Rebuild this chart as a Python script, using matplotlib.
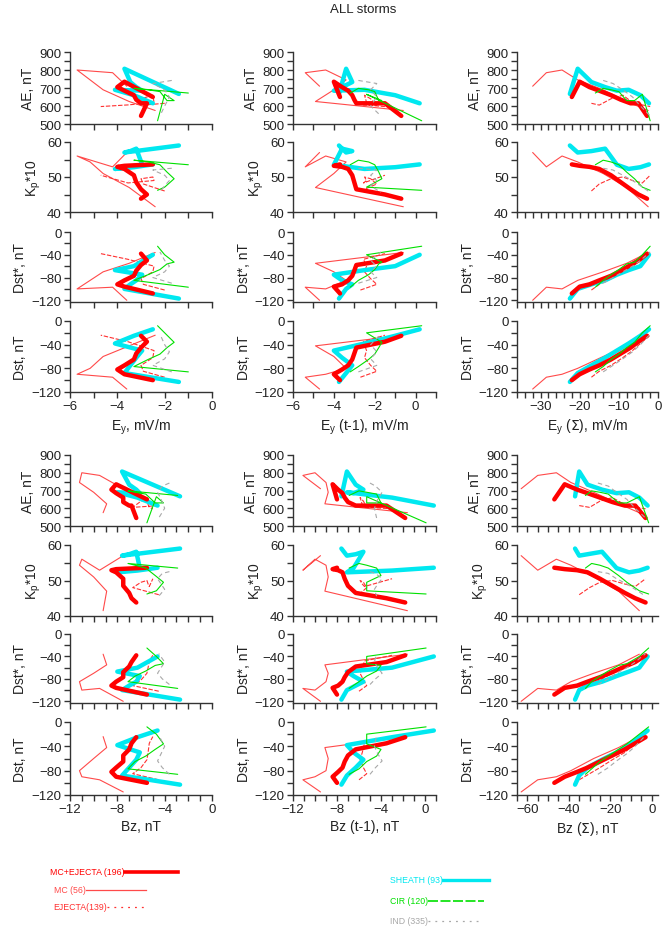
import matplotlib
matplotlib.use("Agg")
import matplotlib.pyplot as plt
from matplotlib.ticker import MultipleLocator
from matplotlib.lines import Line2D

plt.rcParams['font.family'] = ['Liberation Sans', 'DejaVu Sans']

# ---- data: one series per storm type, ordered from Dst minimum back to onset ----
# MC+EJECTA (thick red)
mce_ey = [-2.5, -3.7, -4.0, -3.7, -3.3, -3.2, -3.0, -2.75, -3.0]
mce_ey1 = [-3.7, -4.0, -3.6, -3.3, -3.1, -3.0, -2.9, -1.5, -0.7]
mce_eys = [-22, -20, -17.5, -15, -12, -9.5, -7, -5, -2.8]
mce_bz = [-5.5, -8.1, -8.5, -8.1, -7.5, -7.5, -7.0, -6.8, -6.4]
mce_bz1 = [-8.0, -8.4, -7.9, -7.5, -7.3, -7.0, -6.3, -3.5, -1.8]
mce_bzs = [-47, -42, -36, -31, -25, -19, -13, -8, -3]
mce_ae = [650, 735, 705, 685, 660, 635, 615, 615, 545]
mce_kp = [53.6, 53.2, 52.9, 52.3, 50.5, 48.5, 46.5, 45.0, 43.8]
mce_dsts = [-108, -96, -92, -85, -77, -68, -58, -50, -38]
mce_dst = [-100, -90, -82, -75, -65, -55, -45, -35, -25]

# MC (thin red)
mc_ey = [-3.6, -4.2, -5.7, -5.15, -4.6, -3.5, -2.4]
mc_ey1 = [-4.7, -5.4, -4.4, -3.4, -4.0, -4.9, -0.6]
mc_eys = [-32, -28.5, -24.5, -20.5, -14, -8, -2.5]
mc_bz = [-7.5, -9.5, -11.0, -11.2, -10.0, -8.9, -9.2]
mc_bz1 = [-9.5, -11.1, -10.0, -9.0, -8.8, -9.1, -1.6]
mc_bzs = [-63, -55, -46, -39, -28, -16, -6]
mc_ae = [710, 785, 800, 745, 690, 625, 575]
mc_kp = [57, 52.9, 56, 54.3, 51, 47, 41.5]
mc_dsts = [-120, -97, -100, -85, -70, -55, -36]
mc_dst = [-115, -95, -90, -80, -60, -42, -24]

# EJECTA (dotted red)
ej_ey = [-2.0, -2.9, -3.0, -2.5, -2.45, -3.55, -4.7]
ej_ey1 = [-2.7, -1.9, -2.2, -2.5, -2.4, -2.55, -1.5]
ej_eys = [-17, -15, -12, -9, -6.5, -4, -2]
ej_bz = [-4.5, -6.7, -6.0, -5.5, -5.4, -5.3, -5.0]
ej_bz1 = [-6.0, -5.3, -5.6, -5.9, -5.7, -5.5, -3.0]
ej_bzs = [-35, -30, -25, -19, -13, -8, -3]
ej_ae = [615, 605, 640, 660, 620, 606, 597]
ej_kp = [46, 48, 49.5, 50, 49, 48.3, 50.5]
ej_dsts = [-102, -92, -82, -70, -60, -48, -38]
ej_dst = [-95, -85, -75, -62, -50, -35, -24]

# SHEATH (thick cyan)
sh_ey = [-1.4, -3.7, -3.45, -3.2, -2.95, -4.1, -3.3, -2.5]
sh_ey1 = [-3.75, -3.4, -3.1, -3.6, -4.0, -2.5, -1.0, 0.2]
sh_eys = [-22.5, -20.5, -17, -13.5, -10.5, -7.5, -4.5, -2.3]
sh_bz = [-2.7, -7.6, -7.0, -6.4, -6.1, -8.0, -6.3, -4.6]
sh_bz1 = [-7.6, -7.1, -6.3, -5.6, -6.5, -7.1, -3.0, 0.8]
sh_bzs = [-37, -35, -31, -24, -17, -11, -6, -2]
sh_ae = [667, 807, 733, 705, 685, 690, 660, 615]
sh_kp = [59, 57, 57.4, 58.1, 53.5, 52.3, 52.8, 53.6]
sh_dsts = [-117, -100, -92, -85, -75, -67, -60, -40]
sh_dst = [-103, -88, -75, -62, -50, -38, -25, -14]

# CIR (thin green)
cir_ey = [-1.0, -3.3, -2.7, -2.2, -1.9, -1.6, -2.0, -2.3]
cir_ey1 = [-3.2, -2.8, -2.3, -2.0, -1.8, -1.65, -2.4, 0.3]
cir_eys = [-16, -14, -12, -10, -8, -6, -4, -2]
cir_bz = [-2.9, -7.1, -6.5, -5.6, -4.8, -4.1, -4.7, -5.5]
cir_bz1 = [-6.9, -6.0, -5.3, -4.4, -4.0, -5.3, -5.3, 0.1]
cir_bzs = [-32, -29, -25, -21, -16, -12, -6, -1.5]
cir_ae = [672, 698, 690, 680, 630, 630, 665, 518]
cir_kp = [53.5, 54.8, 54.3, 53.5, 51.4, 49.5, 47.1, 46.2]
cir_dsts = [-97, -85, -75, -66, -56, -53, -40, -25]
cir_dst = [-86, -77, -65, -56, -45, -36, -20, -8]

# IND (dashed gray)
ind_ey = [-1.7, -2.5, -2.0, -1.8, -2.0, -2.2]
ind_ey1 = [-2.8, -1.9, -2.2, -1.9, -2.2, -1.7]
ind_eys = [-14, -11.5, -9, -6.5, -4.5, -2]
ind_bz = [-3.6, -4.2, -4.6, -4.3, -4.0, -4.5]
ind_bz1 = [-5.0, -4.5, -3.9, -4.3, -4.6, -4.4]
ind_bzs = [-26, -21, -17, -12, -8, -3]
ind_ae = [742, 725, 690, 650, 600, 545]
ind_kp = [52.5, 52, 50.5, 49, 47.5, 45.6]
ind_dsts = [-90, -80, -70, -60, -50, -35]
ind_dst = [-86, -75, -64, -52, -40, -22]

RED = '#ff0000'
CYAN = '#00e8f0'
GREEN = '#00e000'
GRAY = '#a8a8a8'

types = [
    (dict(ey=mc_ey, ey1=mc_ey1, eys=mc_eys, bz=mc_bz, bz1=mc_bz1, bzs=mc_bzs,
          ae=mc_ae, kp=mc_kp, dsts=mc_dsts, dst=mc_dst),
     dict(color='#ff4a4a', lw=0.8, ls='-')),
    (dict(ey=ej_ey, ey1=ej_ey1, eys=ej_eys, bz=ej_bz, bz1=ej_bz1, bzs=ej_bzs,
          ae=ej_ae, kp=ej_kp, dsts=ej_dsts, dst=ej_dst),
     dict(color='#ff3030', lw=0.8, ls=(0, (4, 1.5)))),
    (dict(ey=sh_ey, ey1=sh_ey1, eys=sh_eys, bz=sh_bz, bz1=sh_bz1, bzs=sh_bzs,
          ae=sh_ae, kp=sh_kp, dsts=sh_dsts, dst=sh_dst),
     dict(color=CYAN, lw=3.2, ls='-')),
    (dict(ey=mce_ey, ey1=mce_ey1, eys=mce_eys, bz=mce_bz, bz1=mce_bz1, bzs=mce_bzs,
          ae=mce_ae, kp=mce_kp, dsts=mce_dsts, dst=mce_dst),
     dict(color=RED, lw=3.2, ls='-')),
    (dict(ey=cir_ey, ey1=cir_ey1, eys=cir_eys, bz=cir_bz, bz1=cir_bz1, bzs=cir_bzs,
          ae=cir_ae, kp=cir_kp, dsts=cir_dsts, dst=cir_dst),
     dict(color=GREEN, lw=0.8, ls='-')),
    (dict(ey=ind_ey, ey1=ind_ey1, eys=ind_eys, bz=ind_bz, bz1=ind_bz1, bzs=ind_bzs,
          ae=ind_ae, kp=ind_kp, dsts=ind_dsts, dst=ind_dst),
     dict(color=GRAY, lw=0.8, ls=(0, (4, 3)))),
]

W, H = 664, 928
fig = plt.figure(figsize=(W / 100, H / 100), dpi=100)
TXT = '#222222'

# column settings: (x var, xlim, major, minor, xlabel, left px, right px)
cols_top = [
    ('ey', (-6, 0), 2, 1, r'E$_\mathregular{y}$, mV/m', 70, 212),
    ('ey1', (-6, 1), 2, 1, r'E$_\mathregular{y}$ (t-1), mV/m', 293, 436),
    ('eys', (-36, 0), 10, 2, r'E$_\mathregular{y}$ ($\Sigma$), mV/m', 517, 658),
]
cols_bot = [
    ('bz', (-12, 0), 4, 1, 'Bz, nT', 70, 212),
    ('bz1', (-12, 1), 4, 1, 'Bz (t-1), nT', 293, 436),
    ('bzs', (-65, 3), 20, 5, r'Bz ($\Sigma$), nT', 517, 658),
]
# row settings: (y var, ylim, major, minor, ylabel)
rows = [
    ('ae', (500, 900), 100, 50, 'AE, nT'),
    ('kp', (40, 60), 10, 5, r'K$_\mathregular{p}$*10'),
    ('dsts', (-123, 0), 40, 20, 'Dst*, nT'),
    ('dst', (-120, 0), 40, 20, 'Dst, nT'),
]
rows_top_px = [(53, 125), (143, 213), (233, 303), (322, 393)]
rows_bot_px = [(456, 527), (546, 617), (635, 704), (723, 796)]

for cols, rpx in [(cols_top, rows_top_px), (cols_bot, rows_bot_px)]:
    for ci, (xv, xlim, xmaj, xmin, xlab, lpx, rpx_) in enumerate(cols):
        for ri, (yv, ylim, ymaj, ymin, ylab) in enumerate(rows):
            t, b = rpx[ri]
            ax = fig.add_axes([lpx / W, 1 - b / H, (rpx_ - lpx) / W, (b - t) / H])
            for series, style in types:
                ax.plot(series[xv], series[yv], color=style['color'], lw=style['lw'],
                        ls=style['ls'], solid_joinstyle='round', solid_capstyle='round')
            ax.set_xlim(*xlim)
            ax.set_ylim(*ylim)
            ax.xaxis.set_major_locator(MultipleLocator(xmaj))
            ax.xaxis.set_minor_locator(MultipleLocator(xmin))
            ax.yaxis.set_major_locator(MultipleLocator(ymaj))
            ax.yaxis.set_minor_locator(MultipleLocator(ymin))
            for s in ['top', 'right']:
                ax.spines[s].set_visible(False)
            for s in ['left', 'bottom']:
                ax.spines[s].set_color('#333333')
                ax.spines[s].set_linewidth(1.0)
            ax.tick_params(which='both', direction='out', length=4, width=1,
                           color='#333333', labelsize=9.5, labelcolor=TXT, pad=2)
            if ri < 3:
                ax.tick_params(axis='x', labelbottom=False)
            else:
                ax.set_xlabel(xlab, fontsize=10, color=TXT, labelpad=3)
            if not (cols is cols_top and ci == 2 and yv == 'kp'):
                ax.set_ylabel(ylab, fontsize=10, color=TXT, labelpad=3)

fig.text(363 / W, 1 - 10 / H, 'ALL storms', ha='center', va='center', fontsize=9.5, color=TXT)

# legend drawn in figure pixels
legend_items = [
    ('MC+EJECTA (196)', 125, 873, 178, RED, 2.6, '-'),
    ('MC (56)', 86, 891, 146, '#ff4a4a', 0.9, '-'),
    ('EJECTA(139)', 107, 908, 145, '#ff3030', 0.9, (0, (1.5, 4))),
    ('SHEATH (93)', 443, 881, 489, CYAN, 2.4, '-'),
    ('CIR (120)', 428, 902, 484, GREEN, 1.2, (0, (6, 1.5))),
    ('IND (335)', 428, 922, 478, GRAY, 0.9, (0, (1.5, 4))),
]
for label, xr, y, xe, col, lw, ls in legend_items:
    fig.text(xr / W, 1 - y / H, label, ha='right', va='center', fontsize=6.3, color=col)
    fig.add_artist(Line2D([xr / W, xe / W], [1 - y / H, 1 - y / H], color=col, lw=lw, ls=ls,
                          transform=fig.transFigure))

fig.savefig('out.png', dpi=100)
